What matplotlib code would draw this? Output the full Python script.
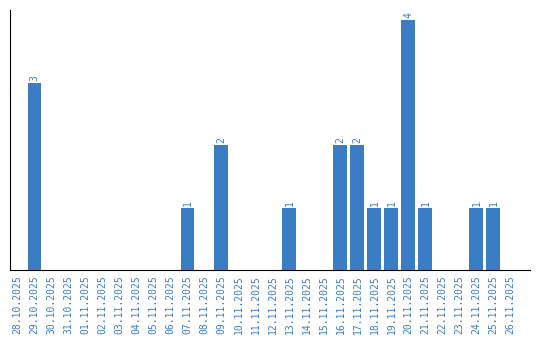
import matplotlib
matplotlib.use("Agg")
import matplotlib.pyplot as plt

dates = ["28.10.2025", "29.10.2025", "30.10.2025", "31.10.2025", "01.11.2025",
         "02.11.2025", "03.11.2025", "04.11.2025", "05.11.2025", "06.11.2025",
         "07.11.2025", "08.11.2025", "09.11.2025", "10.11.2025", "11.11.2025",
         "12.11.2025", "13.11.2025", "14.11.2025", "15.11.2025", "16.11.2025",
         "17.11.2025", "18.11.2025", "19.11.2025", "20.11.2025", "21.11.2025",
         "22.11.2025", "23.11.2025", "24.11.2025", "25.11.2025", "26.11.2025"]
counts = [0, 3, 0, 0, 0, 0, 0, 0, 0, 0,
          1, 0, 2, 0, 0, 0, 1, 0, 0, 2,
          2, 1, 1, 4, 1, 0, 0, 1, 1, 0]

blue = "#3b7dc4"
font = "DejaVu Sans Mono"

fig = plt.figure(figsize=(5.4, 3.4), dpi=100)
ax = fig.add_axes([10 / 540, 70 / 340, 520 / 540, 260 / 340])

x = range(len(dates))
bars = ax.bar(x, counts, width=0.82, color=blue)
for b, c in zip(bars, counts):
    if c > 0:
        ax.text(b.get_x() + b.get_width() / 2, c + 0.03, str(c),
                rotation=90, ha="center", va="bottom",
                color=blue, fontsize=7, family=font)

ax.set_xlim(-0.44, 30.15)
ax.set_ylim(0, 4.16)
ax.set_xticks(list(x))
ax.set_xticklabels(dates, rotation=90, color=blue, fontsize=7, family=font)
ax.tick_params(axis="x", length=0, pad=4)
ax.set_yticks([])
ax.spines["top"].set_visible(False)
ax.spines["right"].set_visible(False)

fig.savefig("out.png", dpi=100)
